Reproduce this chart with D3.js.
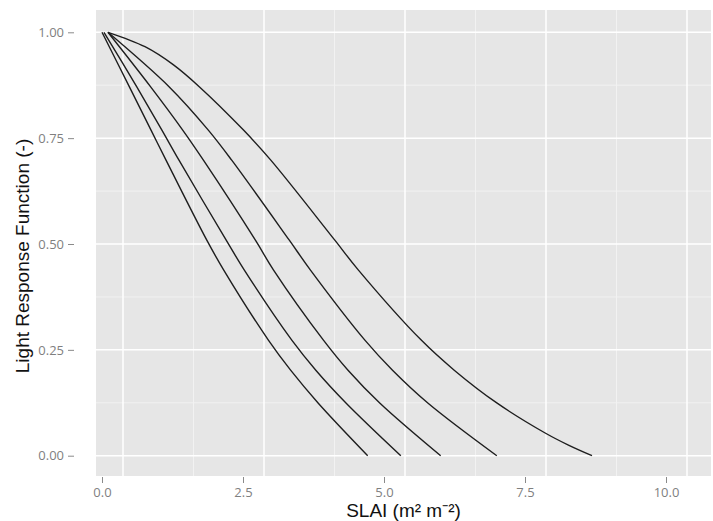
<!DOCTYPE html>
<html>
<head>
<meta charset="utf-8">
<script src="https://cdn.jsdelivr.net/npm/d3@7"></script>
<style>
  html, body { margin: 0; padding: 0; background: #ffffff; }
  svg { display: block; }
</style>
</head>
<body>
<svg id="chart" width="713" height="521"></svg>
<script>
// Light response function against sunlit leaf area index, five canopies
const lrfLevels = [1.00, 0.871, 0.769, 0.698, 0.509, 0.439, 0.273, 0.202, 0.124, 0.00];

const slaiA = [0.000, 0.486, 0.869, 1.135, 1.858, 2.156, 2.950, 3.344, 3.835, 4.711];
const slaiB = [0.035, 0.617, 1.062, 1.365, 2.202, 2.521, 3.365, 3.791, 4.330, 5.298];
const slaiC = [0.106, 0.863, 1.431, 1.798, 2.720, 3.039, 3.926, 4.362, 4.929, 6.005];
const slaiD = [0.106, 1.193, 1.885, 2.300, 3.321, 3.693, 4.661, 5.151, 5.782, 7.000];

const slaiE = [0.106, 0.762, 1.268, 1.729, 2.509, 2.993, 4.128, 4.543, 5.660, 6.245, 7.006, 7.865, 8.270, 8.688];
const lrfE  = [1.000, 0.966, 0.923, 0.871, 0.769, 0.698, 0.509, 0.439, 0.273, 0.202, 0.124, 0.053, 0.025, 0.000];

const xTicks = [0, 2.5, 5, 7.5, 10];
const xTickLabels = ["0.0", "2.5", "5.0", "7.5", "10.0"];
const yTicks = [0, 0.25, 0.5, 0.75, 1];
const yTickLabels = ["0.00", "0.25", "0.50", "0.75", "1.00"];

const series = [
  d3.zip(slaiA, lrfLevels),
  d3.zip(slaiB, lrfLevels),
  d3.zip(slaiC, lrfLevels),
  d3.zip(slaiD, lrfLevels),
  d3.zip(slaiE, lrfE)
];

const panel = { left: 96, right: 711, top: 10, bottom: 476 };

const x = d3.scaleLinear().domain([0, 10]).range([102, 666]);
const y = d3.scaleLinear().domain([0, 1]).range([455.7, 32.3]);

const svg = d3.select("#chart");

// panel background
svg.append("rect")
  .attr("x", panel.left).attr("y", panel.top)
  .attr("width", panel.right - panel.left)
  .attr("height", panel.bottom - panel.top)
  .attr("fill", "#e6e6e6");

const grid = svg.append("g");
const gridShift = 21;
const inX = px => px >= panel.left && px <= panel.right;

// minor grid
const yMinor = [0.125, 0.375, 0.625, 0.875];
grid.selectAll("line.ymin").data(yMinor).enter().append("line")
  .attr("x1", panel.left).attr("x2", panel.right)
  .attr("y1", d => y(d)).attr("y2", d => y(d))
  .attr("stroke", "#f2f2f2").attr("stroke-width", 1);
const xMinor = [-1.25, 1.25, 3.75, 6.25, 8.75].map(v => x(v) + gridShift).filter(inX);
grid.selectAll("line.xmin").data(xMinor).enter().append("line")
  .attr("x1", d => d).attr("x2", d => d)
  .attr("y1", panel.top).attr("y2", panel.bottom)
  .attr("stroke", "#f2f2f2").attr("stroke-width", 1);

// major grid
grid.selectAll("line.ymaj").data(yTicks).enter().append("line")
  .attr("x1", panel.left).attr("x2", panel.right)
  .attr("y1", d => y(d)).attr("y2", d => y(d))
  .attr("stroke", "#ffffff").attr("stroke-width", 1.5);
const xMajor = xTicks.map(v => x(v) + gridShift).filter(inX);
grid.selectAll("line.xmaj").data(xMajor).enter().append("line")
  .attr("x1", d => d).attr("x2", d => d)
  .attr("y1", panel.top).attr("y2", panel.bottom)
  .attr("stroke", "#ffffff").attr("stroke-width", 1.5);

// curves
const line = d3.line()
  .x(d => x(d[0]))
  .y(d => y(d[1]))
  .curve(d3.curveCatmullRom.alpha(0.5));

svg.append("g").selectAll("path").data(series).enter().append("path")
  .attr("d", line)
  .attr("fill", "none")
  .attr("stroke", "#1e1e1e")
  .attr("stroke-width", 1.4);

// axes
const xAxis = d3.axisBottom(x)
  .tickValues(xTicks)
  .tickFormat((d, i) => xTickLabels[i])
  .tickSize(6).tickSizeOuter(0).tickPadding(5);
const gx = svg.append("g").attr("transform", "translate(0,477)").call(xAxis);

const yAxis = d3.axisLeft(y)
  .tickValues(yTicks)
  .tickFormat((d, i) => yTickLabels[i])
  .tickSize(6).tickSizeOuter(0).tickPadding(4);
const gy = svg.append("g").attr("transform", "translate(74,0)").call(yAxis);

[gx, gy].forEach(g => {
  g.select(".domain").remove();
  g.selectAll(".tick line").attr("stroke", "#8a8a8a").attr("stroke-width", 1);
  g.selectAll(".tick text")
    .attr("fill", "#7f7f7f")
    .style("font-family", "'Open Sans', 'DejaVu Sans', sans-serif")
    .style("font-size", "13px");
});

// axis titles
svg.append("text")
  .attr("x", (panel.left + panel.right) / 2)
  .attr("y", 517)
  .attr("text-anchor", "middle")
  .style("font-family", "'Liberation Sans', Arial, sans-serif")
  .style("font-size", "19px")
  .attr("fill", "#111")
  .text("SLAI (m² m⁻²)");

svg.append("text")
  .attr("transform", "translate(29,256) rotate(-90)")
  .attr("text-anchor", "middle")
  .style("font-family", "'Liberation Sans', Arial, sans-serif")
  .style("font-size", "19px")
  .attr("fill", "#111")
  .text("Light Response Function (-)");
</script>
</body>
</html>
